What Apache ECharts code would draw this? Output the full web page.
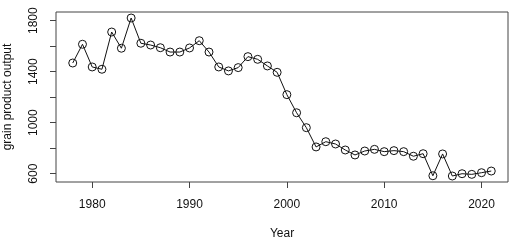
<!DOCTYPE html>
<html>
<head>
<meta charset="utf-8">
<script src="https://cdn.jsdelivr.net/npm/echarts@6/dist/echarts.min.js"></script>
<style>
  html, body { margin: 0; padding: 0; background: #fff; }
  #main { width: 518px; height: 243px; }
</style>
</head>
<body>
<div id="main"></div>
<script>
// years and grain output
var years = [1978, 1979, 1980, 1981, 1982, 1983, 1984, 1985, 1986, 1987,
  1988, 1989, 1990, 1991, 1992, 1993, 1994, 1995, 1996, 1997,
  1998, 1999, 2000, 2001, 2002, 2003, 2004, 2005, 2006, 2007,
  2008, 2009, 2010, 2011, 2012, 2013, 2014, 2015, 2016, 2017,
  2018, 2019, 2020, 2021];
var output = [1468, 1615, 1437, 1419, 1711, 1584, 1821, 1623, 1609, 1588,
  1554, 1554, 1586, 1643, 1554, 1437, 1406, 1432, 1518, 1497,
  1445, 1395, 1220, 1078, 961, 810, 851, 833, 786, 747,
  778, 791, 773, 781, 773, 737, 757, 584, 755, 582,
  600, 595, 608, 621];
var xTicks = [1980, 1990, 2000, 2010, 2020];
var yTicks = [600, 800, 1000, 1200, 1400, 1600, 1800];
var yLabels = [600, 1000, 1400, 1800];

var points = [];
for (var i = 0; i < years.length; i++) {
  points.push([years[i], output[i]]);
}

var chart = echarts.init(document.getElementById('main'), null, { renderer: 'canvas' });
var textStyle = { fontFamily: 'Liberation Sans, Arial, sans-serif', fontSize: 12, color: '#111' };
function plain(v) { return String(v); }

var option = {
  backgroundColor: '#fff',
  animation: false,
  grid: {
    left: 56, right: 10, top: 12, bottom: 61,
    containLabel: false,
    outerBoundsMode: 'none',
    show: true, borderColor: '#444', borderWidth: 1, backgroundColor: 'transparent'
  },
  xAxis: {
    type: 'value',
    min: 1976.28,
    max: 2022.72,
    axisLine: { show: false },
    splitLine: { show: false },
    axisTick: { show: true, customValues: xTicks, length: 6, lineStyle: { color: '#444' } },
    axisLabel: Object.assign({ customValues: xTicks, margin: 17, formatter: plain }, textStyle),
    name: 'Year',
    nameLocation: 'middle',
    nameGap: 46,
    nameTextStyle: textStyle
  },
  yAxis: {
    type: 'value',
    min: 535,
    max: 1868,
    axisLine: { show: false },
    splitLine: { show: false },
    axisTick: { show: true, customValues: yTicks, length: 6, lineStyle: { color: '#444' } },
    axisLabel: Object.assign({ customValues: yLabels, margin: 16, rotate: 90, formatter: plain }, textStyle),
    name: 'grain product output',
    nameLocation: 'middle',
    nameGap: 42,
    nameTextStyle: textStyle
  },
  series: [
    {
      type: 'line',
      data: points,
      symbol: 'circle',
      symbolSize: 8,
      itemStyle: { color: 'rgba(0,0,0,0)', borderColor: '#111', borderWidth: 1 },
      lineStyle: { color: '#111', width: 1 },
      silent: true
    }
  ]
};
chart.setOption(option);
</script>
</body>
</html>
